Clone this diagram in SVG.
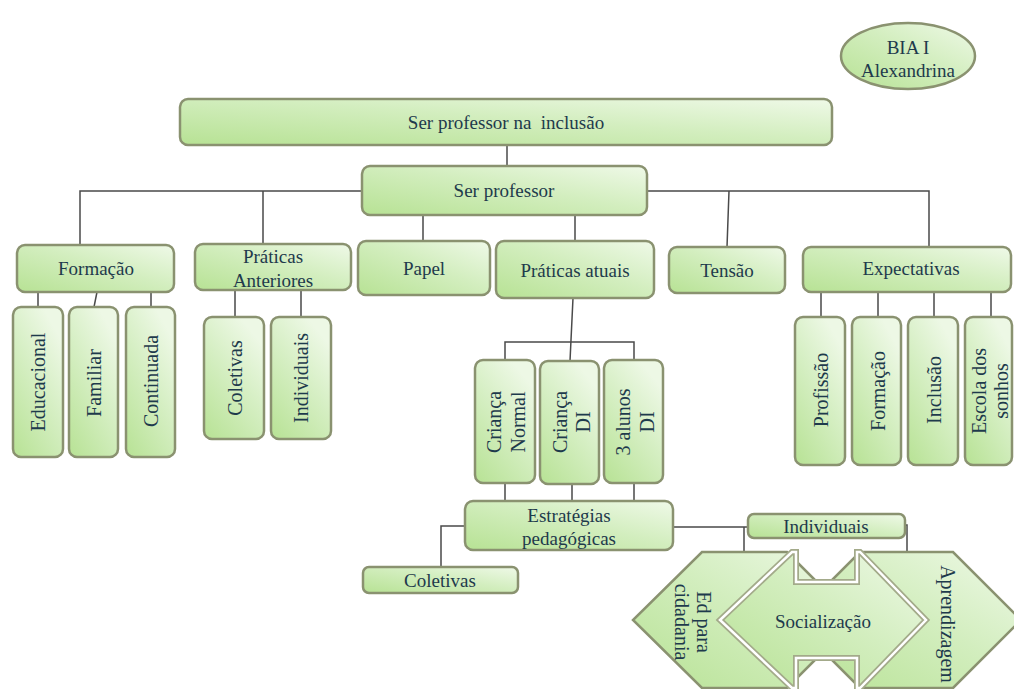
<svg xmlns="http://www.w3.org/2000/svg" width="1014" height="689" viewBox="0 0 1014 689">
<defs>
<linearGradient id="g" x1="0" y1="1" x2="1" y2="0">
<stop offset="0" stop-color="#b7e294"/>
<stop offset="0.55" stop-color="#d3eebf"/>
<stop offset="1" stop-color="#eff9e8"/>
</linearGradient>
<linearGradient id="gv" x1="0" y1="1" x2="0.6" y2="0">
<stop offset="0" stop-color="#b7e294"/>
<stop offset="0.6" stop-color="#d6efc4"/>
<stop offset="1" stop-color="#edf8e5"/>
</linearGradient>
<style>
.b{fill:url(#g);stroke:#8a9270;stroke-width:2.5}
.v{fill:url(#gv);stroke:#8a9270;stroke-width:2.5}
text{font-family:'Liberation Serif','DejaVu Serif',serif;fill:#1e3a4c;text-anchor:middle}
.t{font-size:19px}
.tv{font-size:20px}
.c{fill:none;stroke:#4a4a4a;stroke-width:1.5}
</style>
</defs>
<rect width="1014" height="689" fill="#ffffff"/>

<g id="connectors">
<path class="c" d="M507 145V166"/>
<path class="c" d="M362 191H80V245M263 191V244"/>
<path class="c" d="M647 191H929V247M729 191L727 247"/>
<path class="c" d="M423 215V241M575 215V241"/>
<path class="c" d="M38 292V307M97 292L94 307M151 292V307"/>
<path class="c" d="M235 290V317M301 290V317"/>
<path class="c" d="M821 292V317M878 292V317M934 292V317M991 292V317"/>
<path class="c" d="M573 298L570 361M505 360V342H634V360"/>
<path class="c" d="M505 483V501M572 484V501M634 483V501"/>
<path class="c" d="M465 526H441V567"/>
<path class="c" d="M673 527H748M744 527V552"/>
<path class="c" d="M905 525H907V552"/>
</g>

<g id="bia">
<ellipse class="b" cx="908" cy="56" rx="67" ry="33"/>
<text class="t" x="908" y="54" font-family="Liberation Serif, serif">BIA I</text>
<text class="t" x="908" y="77" font-family="Liberation Serif, serif">Alexandrina</text>
</g>

<g id="ser-professor-inclusao">
<rect class="b" x="180" y="99" width="652" height="46" rx="8"/>
<text class="t" x="506" y="129" xml:space="preserve">Ser professor na  inclusão</text>
</g>
<g id="ser-professor">
<rect class="b" x="362" y="166" width="285" height="49" rx="8"/>
<text class="t" x="504" y="197">Ser professor</text>
</g>

<g id="formacao">
<rect class="b" x="17" y="245" width="157" height="47" rx="8"/>
<text class="t" x="96" y="275">Formação</text>
</g>
<g id="praticas-anteriores">
<rect class="b" x="195" y="244" width="156" height="46" rx="8"/>
<text class="t" x="273" y="263">Práticas</text>
<text class="t" x="273" y="287">Anteriores</text>
</g>
<g id="papel">
<rect class="b" x="358" y="241" width="132" height="54" rx="8"/>
<text class="t" x="424" y="275">Papel</text>
</g>
<g id="praticas-atuais">
<rect class="b" x="496" y="241" width="158" height="57" rx="8"/>
<text class="t" x="575" y="277">Práticas atuais</text>
</g>
<g id="tensao">
<rect class="b" x="669" y="247" width="116" height="46" rx="8"/>
<text class="t" x="727" y="277">Tensão</text>
</g>
<g id="expectativas">
<rect class="b" x="803" y="247" width="208" height="45" rx="8"/>
<text class="t" x="911" y="275">Expectativas</text>
</g>

<g id="educacional">
<rect class="v" x="13" y="307" width="50" height="150" rx="8"/>
<text class="tv" transform="translate(38 382) rotate(-90)" dy="0.35em">Educacional</text>
</g>
<g id="familiar">
<rect class="v" x="69" y="307" width="49" height="150" rx="8"/>
<text class="tv" transform="translate(94 383) rotate(-90)" dy="0.35em">Familiar</text>
</g>
<g id="continuada">
<rect class="v" x="126" y="307" width="49" height="150" rx="8"/>
<text class="tv" transform="translate(151 381) rotate(-90)" dy="0.35em">Continuada</text>
</g>
<g id="coletivas-ant">
<rect class="v" x="204" y="317" width="60" height="122" rx="8"/>
<text class="tv" transform="translate(235 378) rotate(-90)" dy="0.35em">Coletivas</text>
</g>
<g id="individuais-ant">
<rect class="v" x="271" y="317" width="60" height="122" rx="8"/>
<text class="tv" transform="translate(301 378) rotate(-90)" dy="0.35em">Individuais</text>
</g>

<g id="profissao">
<rect class="v" x="795" y="317" width="50" height="148" rx="8"/>
<text class="tv" transform="translate(821 390) rotate(-90)" dy="0.35em">Profissão</text>
</g>
<g id="formacao-exp">
<rect class="v" x="852" y="317" width="49" height="148" rx="8"/>
<text class="tv" transform="translate(878 391) rotate(-90)" dy="0.35em">Formação</text>
</g>
<g id="inclusao">
<rect class="v" x="908" y="317" width="50" height="148" rx="8"/>
<text class="tv" transform="translate(934 390) rotate(-90)" dy="0.35em">Inclusão</text>
</g>
<g id="escola-sonhos">
<rect class="v" x="965" y="317" width="47" height="148" rx="8"/>
<text class="tv" transform="translate(979 391) rotate(-90)" dy="0.35em">Escola dos</text>
<text class="tv" transform="translate(1001 391) rotate(-90)" dy="0.35em">sonhos</text>
</g>

<g id="crianca-normal">
<rect class="v" x="475" y="360" width="60" height="123" rx="8"/>
<text class="tv" transform="translate(494 422) rotate(-90)" dy="0.35em">Criança</text>
<text class="tv" transform="translate(518 422) rotate(-90)" dy="0.35em">Normal</text>
</g>
<g id="crianca-di">
<rect class="v" x="540" y="361" width="59" height="123" rx="8"/>
<text class="tv" transform="translate(560 422) rotate(-90)" dy="0.35em">Criança</text>
<text class="tv" transform="translate(583 422) rotate(-90)" dy="0.35em">DI</text>
</g>
<g id="tres-alunos-di">
<rect class="v" x="604" y="360" width="59" height="123" rx="8"/>
<text class="tv" transform="translate(623 422) rotate(-90)" dy="0.35em">3 alunos</text>
<text class="tv" transform="translate(647 422) rotate(-90)" dy="0.35em">DI</text>
</g>

<g id="estrategias">
<rect class="b" x="465" y="501" width="208" height="49" rx="8"/>
<text class="t" x="569" y="522">Estratégias</text>
<text class="t" x="569" y="545">pedagógicas</text>
</g>
<g id="coletivas">
<rect class="b" x="363" y="567" width="155" height="26" rx="6"/>
<text class="t" x="440" y="587">Coletivas</text>
</g>
<g id="individuais">
<rect class="b" x="748" y="514" width="157" height="24" rx="6"/>
<text class="t" x="826" y="533">Individuais</text>
</g>

<g id="ed-cidadania">
<polygon class="b" points="702,552 787,552 855,620 787,688 702,688 633,620"/>
<text class="tv" transform="translate(704 622) rotate(90)" dy="0.35em">Ed para</text>
<text class="tv" transform="translate(682 622) rotate(90)" dy="0.35em">cidadania</text>
</g>
<g id="aprendizagem">
<polygon class="b" points="860,552 953,552 1021,620 953,688 860,688 792,620"/>
<text class="tv" transform="translate(948 624) rotate(90)" dy="0.35em">Aprendizagem</text>
</g>
<g id="socializacao">
<polygon points="720,620 792,552 796,552 796,582 857,582 857,552 860,552 926,620 860,688 857,688 857,658 796,658 796,688 792,688" fill="url(#g)" stroke="#a3aa8a" stroke-width="6" stroke-linejoin="miter"/>
<polygon points="720,620 792,552 796,552 796,582 857,582 857,552 860,552 926,620 860,688 857,688 857,658 796,658 796,688 792,688" fill="none" stroke="#ffffff" stroke-width="2.5" stroke-linejoin="miter"/>
<text class="t" x="823" y="628">Socialização</text>
</g>
</svg>
